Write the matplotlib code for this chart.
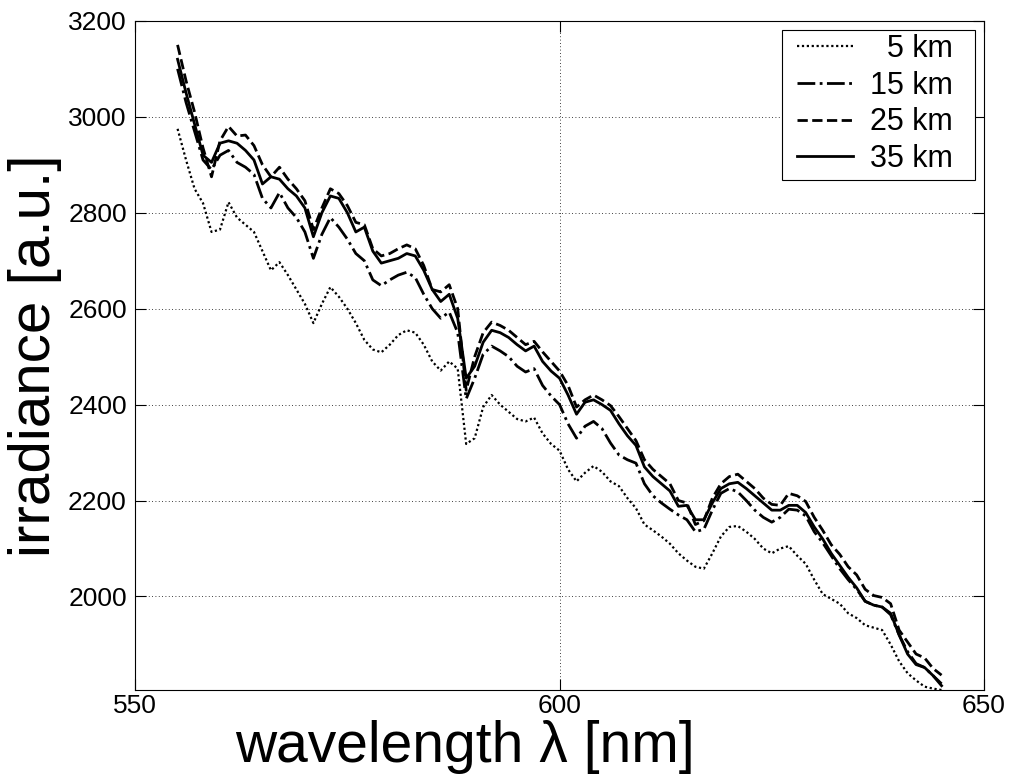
"""
irradiance spectra at several altitudes
"""

import numpy as np
from matplotlib import pyplot as plt
from matplotlib.patches import Rectangle

# wavelength grid [nm]
wavelength = np.arange(555, 646, 1)

# 5 km
irr_5km = [
    2975, 2910, 2850, 2820, 2760, 2765, 2822, 2790, 2775, 2760,
    2720, 2680, 2697, 2670, 2640, 2610, 2570, 2610, 2645, 2625,
    2600, 2570, 2535, 2515, 2509, 2525, 2545, 2555, 2550, 2525,
    2490, 2471, 2490, 2475, 2318, 2330, 2395, 2420, 2400, 2385,
    2370, 2365, 2373, 2340, 2318, 2304, 2265, 2240, 2258, 2272,
    2260, 2240, 2230, 2205, 2184, 2150, 2138, 2125, 2110, 2090,
    2075, 2062, 2058, 2090, 2125, 2145, 2147, 2135, 2120, 2100,
    2090, 2100, 2105, 2085, 2068, 2035, 2005, 1995, 1985, 1965,
    1955, 1940, 1935, 1930, 1900, 1865, 1840, 1825, 1812, 1808,
    1805,
]

# 15 km
irr_15km = [
    3100, 3030, 2970, 2910, 2890, 2920, 2930, 2905, 2895, 2880,
    2830, 2810, 2842, 2810, 2790, 2760, 2705, 2755, 2790, 2770,
    2745, 2715, 2700, 2660, 2648, 2660, 2670, 2676, 2665, 2630,
    2600, 2580, 2593, 2550, 2412, 2455, 2505, 2522, 2512, 2500,
    2480, 2468, 2475, 2440, 2418, 2400, 2360, 2330, 2355, 2365,
    2350, 2320, 2295, 2285, 2278, 2235, 2210, 2195, 2182, 2170,
    2160, 2135, 2140, 2180, 2215, 2225, 2218, 2200, 2180, 2165,
    2155, 2165, 2182, 2180, 2168, 2135, 2112, 2085, 2058, 2035,
    2015, 1990, 1982, 1978, 1962, 1920, 1885, 1860, 1852, 1835,
    1818,
]

# 25 km
irr_25km = [
    3150, 3075, 3010, 2935, 2875, 2950, 2980, 2960, 2962, 2940,
    2900, 2875, 2895, 2870, 2850, 2825, 2765, 2810, 2850, 2840,
    2815, 2780, 2775, 2725, 2710, 2715, 2725, 2733, 2725, 2690,
    2640, 2635, 2650, 2600, 2430, 2500, 2550, 2572, 2565, 2555,
    2540, 2525, 2532, 2510, 2490, 2470, 2440, 2395, 2410, 2420,
    2410, 2398, 2375, 2350, 2325, 2285, 2265, 2250, 2235, 2200,
    2195, 2150, 2158, 2205, 2235, 2250, 2255, 2240, 2225, 2205,
    2192, 2190, 2215, 2210, 2198, 2165, 2138, 2108, 2088, 2062,
    2045, 2015, 2002, 1998, 1985, 1930, 1905, 1880, 1872, 1850,
    1836,
]

# 35 km
irr_35km = [
    3120, 3050, 2985, 2920, 2905, 2945, 2950, 2945, 2930, 2910,
    2860, 2875, 2870, 2850, 2835, 2810, 2750, 2800, 2835, 2830,
    2800, 2760, 2770, 2720, 2695, 2700, 2705, 2715, 2710, 2680,
    2640, 2615, 2630, 2580, 2455, 2480, 2530, 2555, 2550, 2540,
    2525, 2512, 2522, 2490, 2470, 2455, 2420, 2380, 2405, 2410,
    2400, 2388, 2360, 2335, 2315, 2270, 2250, 2235, 2220, 2188,
    2190, 2160, 2160, 2195, 2225, 2235, 2238, 2225, 2210, 2195,
    2180, 2180, 2190, 2190, 2175, 2145, 2120, 2090, 2065, 2040,
    2018, 1990, 1982, 1978, 1965, 1920, 1880, 1858, 1852, 1835,
    1814,
]

x_ticks = [550, 600, 650]
y_ticks = [2000, 2200, 2400, 2600, 2800, 3000, 3200]

plt.rcParams["font.family"] = ["Liberation Sans", "DejaVu Sans"]

fig = plt.figure(figsize=(10.16, 7.74), dpi=100)
ax = fig.add_axes([0.133, 0.1085, 0.8355, 0.8645])

# 各高度的曲线
ax.plot(wavelength, irr_5km, color="black", linestyle=(0, (1, 1.2)),
        linewidth=1.6, label="  5 km")
ax.plot(wavelength, irr_15km, color="black", linestyle="-.",
        linewidth=2.0, label="15 km")
ax.plot(wavelength, irr_25km, color="black", linestyle="--",
        linewidth=2.0, label="25 km")
ax.plot(wavelength, irr_35km, color="black", linestyle="-",
        linewidth=2.0, label="35 km")

ax.set_xlim(550, 650)
ax.set_ylim(1805, 3200)
ax.set_xticks(x_ticks)
ax.set_yticks(y_ticks)
ax.tick_params(direction="in", length=8, width=0.8, labelsize=19,
               top=True, right=True)
ax.tick_params(axis="y", pad=6)
ax.tick_params(axis="x", pad=3)
ax.grid(True, color="black", linestyle=(0, (1, 3)), linewidth=0.6)
for spine in ax.spines.values():
    spine.set_linewidth(0.8)

# 坐标轴标签（x 标签按原图偏左放置）
ax.set_xlabel("wavelength λ [nm]", fontsize=41, va="baseline")
ax.xaxis.set_label_coords(0.389, -0.108)
ax.set_ylabel("irradiance [a.u.]", fontsize=42)
ax.yaxis.set_label_coords(-0.086, 0.5)

# 图例：无边框图例 + 单独的矩形边框
leg = ax.legend(loc="upper right", bbox_to_anchor=(0.9635, 0.9805),
                fontsize=22, frameon=False, handlelength=1.84,
                borderaxespad=0.0, borderpad=0.0, labelspacing=0.22,
                handletextpad=0.56)
ax.add_patch(Rectangle((0.762, 0.7623), 0.2274, 0.2242, transform=ax.transAxes,
                       facecolor="white", edgecolor="black", linewidth=0.8,
                       zorder=4))
leg.set_zorder(5)

fig.savefig("out.png", dpi=100, facecolor="white")
plt.close(fig)
